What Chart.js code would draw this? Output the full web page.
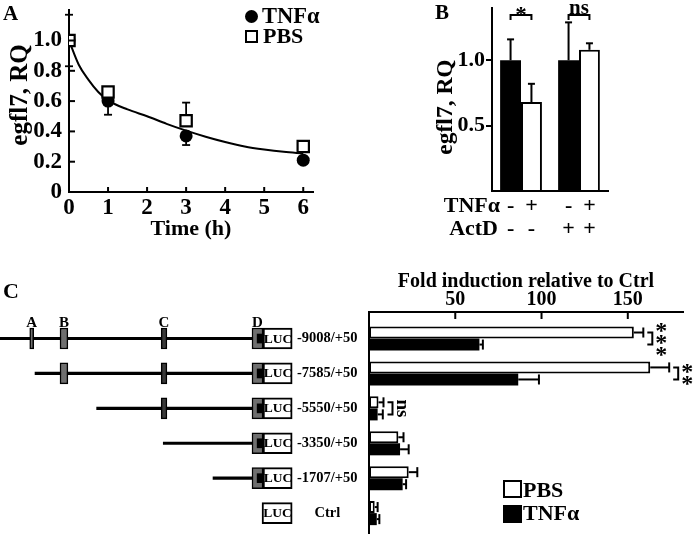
<!DOCTYPE html>
<html><head><meta charset="utf-8">
<script src="https://cdn.jsdelivr.net/npm/chart.js@4.4.0/dist/chart.umd.min.js"></script>
<style>
html,body{margin:0;padding:0;background:#fff;}
body{width:693px;height:536px;position:relative;overflow:hidden;font-family:"Liberation Serif","Times New Roman",serif;font-weight:bold;color:#000;}
canvas{position:absolute;}
.t{position:absolute;line-height:1;white-space:nowrap;z-index:5;}
.rot{position:absolute;line-height:1;white-space:nowrap;transform:translate(-50%,-50%) rotate(-90deg);z-index:5;}
.box{position:absolute;box-sizing:border-box;z-index:5;}
</style></head><body>
<canvas id="cA" width="335" height="250" style="left:0;top:0"></canvas>
<canvas id="cB" width="200" height="245" style="left:420px;top:0"></canvas>
<canvas id="cK" width="365" height="266" style="left:0;top:270px"></canvas>
<canvas id="cC" width="333" height="266" style="left:360px;top:270px"></canvas>

<div class="t" style="left:3px;top:3px;font-size:21px">A</div>
<div class="t" style="left:435px;top:2px;font-size:21px">B</div>
<div class="t" style="left:3px;top:280px;font-size:22px">C</div>

<div class="rot" style="left:18px;top:95px;font-size:25px">egfl7, RQ</div>
<div class="rot" style="left:445px;top:107px;font-size:23.5px">egfl7, RQ</div>

<div class="box" style="left:245px;top:10px;width:13px;height:13px;border-radius:50%;background:#000"></div>
<div class="t" style="left:262px;top:4.6px;font-size:22.5px">TNFα</div>
<div class="box" style="left:245px;top:30px;width:13px;height:13px;border:2.2px solid #000;background:#fff"></div>
<div class="t" style="left:263px;top:24.6px;font-size:22px">PBS</div>

<div class="t" style="right:193px;top:193.6px;font-size:22px">TNFα</div>
<div class="t" style="right:195px;top:216.6px;font-size:22px">ActD</div>

<div class="box" style="left:503px;top:480px;width:19px;height:18px;border:2.5px solid #000;background:#fff"></div>
<div class="t" style="left:523px;top:478.6px;font-size:22px">PBS</div>
<div class="box" style="left:503px;top:505px;width:19px;height:18px;background:#000"></div>
<div class="t" style="left:523px;top:501.6px;font-size:22px">TNFα</div>

<script>
// ---------- Panel A data ----------
const timeH = [0, 1, 3, 6];
const tnfA = [1.0, 0.60, 0.37, 0.21];
const tnfAErrLow = [null, 0.51, 0.31, null];
const pbsA = [1.0, 0.66, 0.47, 0.30];
const pbsAErrHigh = [1.17, null, 0.59, 0.33];
const pbsAErrLow = [0.83, null, null, null];
const fitT = [0, 0.25, 0.5, 0.75, 1, 1.5, 2, 2.5, 3, 3.5, 4, 4.5, 5, 5.5, 6];
const fitRQ = [1.0, 0.84, 0.74, 0.66, 0.605, 0.545, 0.50, 0.45, 0.405, 0.365, 0.33, 0.30, 0.28, 0.265, 0.255];
const yTicksA = [0, 0.2, 0.4, 0.6, 0.8, 1.0];
const xTicksA = [0, 1, 2, 3, 4, 5, 6];

// ---------- Panel B data ----------
const groupsB = ['ActD -', 'ActD +'];
const tnfSignB = ['-', '+', '-', '+'];
const actdSignB = ['-', '-', '+', '+'];
const ctrlB = [1.0, 1.0];
const tnfB = [0.68, 1.08];
const ctrlBErr = [1.16, 1.29];
const tnfBErr = [0.82, 1.13];
const sigB = ['*', 'ns'];
const yTicksB = [0.5, 1.0];

// ---------- Panel C data ----------
const constructs = ['-9008/+50', '-7585/+50', '-5550/+50', '-3350/+50', '-1707/+50', 'Ctrl'];
const constructStart = [-9008, -7585, -5550, -3350, -1707, null];
const elementNames = ['A', 'B', 'C', 'D'];
const elementSpan = [[-7760, -7630], [-6760, -6500], [-3420, -3230], [-420, -56]];
const dMark = [-250, -56];
const lucSpan = [[-56, 907], [-56, 907], [-56, 907], [-56, 907], [-56, 907], [-89, 907]];
const pbsC = [153.5, 163, 5.5, 17, 23, 3.3];
const pbsCErr = [159, 174, 8.4, 20, 28, 5];
const tnfC = [64, 86.5, 5, 18, 19.5, 4.5];
const tnfCErr = [66, 98.5, 8, 23, 21.5, 6];
const sigC = ['***', '**', 'ns', null, null, null];
const xTicksC = [50, 100, 150];

const SERIF = '"Liberation Serif", "Times New Roman", serif';
Chart.defaults.font.family = SERIF;
Chart.defaults.font.weight = 'bold';
Chart.defaults.color = '#000';
Chart.defaults.animation = false;
Chart.defaults.events = [];
Chart.defaults.plugins.legend.display = false;
Chart.defaults.plugins.tooltip.enabled = false;

function seg(ctx, x1, y1, x2, y2) { ctx.beginPath(); ctx.moveTo(x1, y1); ctx.lineTo(x2, y2); ctx.stroke(); }
const near = (arr, v) => arr.some(t => Math.abs(t - v) < 1e-6);
function fixSize(prop, val) {
  return s => { s[prop] = val; s.paddingTop = 0; s.paddingBottom = 0; s.paddingLeft = 0; s.paddingRight = 0; };
}

// ---------- Panel A ----------
new Chart(document.getElementById('cA'), {
  type: 'scatter',
  data: { datasets: [
    { label: 'PBS', data: timeH.map((t, i) => ({ x: t, y: pbsA[i] })), showLine: false,
      pointStyle: 'rect', pointRadius: 8, pointBackgroundColor: '#fff', pointBorderColor: '#000', pointBorderWidth: 2.2 },
    { label: 'TNFα', data: timeH.map((t, i) => ({ x: t, y: tnfA[i] })), showLine: false,
      pointStyle: 'circle', pointRadius: 6.5, pointBackgroundColor: '#000', pointBorderColor: '#000', pointBorderWidth: 0 },
    { label: 'fit', data: fitT.map((t, i) => ({ x: t, y: fitRQ[i] })), showLine: true, pointRadius: 0,
      borderColor: '#000', borderWidth: 2, cubicInterpolationMode: 'monotone', fill: false }
  ]},
  options: {
    responsive: false,
    layout: { padding: { top: 7, right: 22, left: 0, bottom: 0 } },
    scales: {
      x: { type: 'linear', min: 0, max: 6.25,
        afterFit: fixSize('height', 58),
        ticks: { stepSize: 1, includeBounds: false, autoSkip: false, maxRotation: 0, font: { size: 23 }, padding: 2,
          callback: v => near(xTicksA, v) ? String(Math.round(v)) : '' },
        grid: { display: false, drawTicks: false }, border: { display: true, color: '#000', width: 2 },
        title: { display: true, text: 'Time (h)', font: { size: 22 }, padding: { top: 0, bottom: 7 } } },
      y: { type: 'linear', min: 0, max: 1.2,
        afterFit: fixSize('width', 69),
        ticks: { stepSize: 0.2, includeBounds: false, autoSkip: false, font: { size: 23 }, padding: 7,
          callback: v => near(yTicksA, v) ? (Math.abs(v) < 1e-6 ? '0' : v.toFixed(1)) : '' },
        grid: { display: false, drawTicks: false }, border: { display: true, color: '#000', width: 2 } }
    }
  },
  plugins: [{
    id: 'aExtras',
    beforeDatasetsDraw(chart) {
      const { ctx, scales: { x, y } } = chart;
      ctx.save(); ctx.strokeStyle = '#000'; ctx.lineWidth = 1.8;
      const bar = (t, v, e) => {
        const px = x.getPixelForValue(t), p0 = y.getPixelForValue(v), p1 = y.getPixelForValue(e);
        seg(ctx, px, p0, px, p1); seg(ctx, px - 4, p1, px + 4, p1);
      };
      timeH.forEach((t, i) => {
        if (pbsAErrHigh[i] != null) bar(t, pbsA[i], pbsAErrHigh[i]);
        if (pbsAErrLow[i] != null) bar(t, pbsA[i], pbsAErrLow[i]);
        if (tnfAErrLow[i] != null) bar(t, tnfA[i], tnfAErrLow[i]);
      });
      ctx.restore();
    },
    afterDatasetsDraw(chart) {
      const { ctx, scales: { x, y }, chartArea: ca } = chart;
      ctx.save(); ctx.strokeStyle = '#000'; ctx.lineWidth = 2;
      yTicksA.forEach(v => { if (v === 0) return; const py = y.getPixelForValue(v); seg(ctx, ca.left, py, ca.left + 6, py); });
      xTicksA.forEach(v => { if (v === 0) return; const px = x.getPixelForValue(v); seg(ctx, px, ca.bottom, px, ca.bottom - 5); });
      ctx.restore();
    }
  }]
});

// ---------- Panel B ----------
new Chart(document.getElementById('cB'), {
  type: 'bar',
  data: { labels: groupsB, datasets: [
    { label: 'TNFα -', data: ctrlB, backgroundColor: '#000', borderColor: '#000', borderWidth: 0 },
    { label: 'TNFα +', data: tnfB, backgroundColor: '#fff', borderColor: '#000', borderWidth: 2, borderSkipped: 'bottom' }
  ]},
  options: {
    responsive: false,
    layout: { padding: { top: 8, right: 12, left: 0, bottom: 0 } },
    datasets: { bar: { categoryPercentage: 0.72, barPercentage: 1 } },
    scales: {
      x: { afterFit: fixSize('height', 54), ticks: { display: false },
        grid: { display: false, drawTicks: false }, border: { display: true, color: '#000', width: 2 } },
      y: { min: 0, max: 1.4, afterFit: fixSize('width', 72),
        ticks: { stepSize: 0.5, includeBounds: false, autoSkip: false, font: { size: 22 }, padding: 1,
          callback: v => near(yTicksB, v) ? v.toFixed(1) : '' },
        grid: { display: true, drawOnChartArea: false, drawTicks: true, tickLength: 6, lineWidth: 2,
          color: c => (c.tick && near(yTicksB, c.tick.value)) ? '#000' : 'rgba(0,0,0,0)' },
        border: { display: true, color: '#000', width: 2 } }
    }
  },
  plugins: [{
    id: 'bExtras',
    afterDatasetsDraw(chart) {
      const { ctx, scales: { y }, chartArea: ca } = chart;
      const metas = [chart.getDatasetMeta(0), chart.getDatasetMeta(1)];
      const errs = [ctrlBErr, tnfBErr];
      ctx.save(); ctx.strokeStyle = '#000'; ctx.fillStyle = '#000'; ctx.lineWidth = 2;
      metas.forEach((m, d) => m.data.forEach((el, i) => {
        const ey = y.getPixelForValue(errs[d][i]);
        seg(ctx, el.x, el.y, el.x, ey); seg(ctx, el.x - 3.5, ey, el.x + 3.5, ey);
      }));
      ctx.font = 'bold 22px ' + SERIF; ctx.textAlign = 'center'; ctx.textBaseline = 'alphabetic';
      groupsB.forEach((g, i) => {
        [0, 1].forEach(d => {
          const el = metas[d].data[i], k = i * 2 + d;
          ctx.fillText(tnfSignB[k], el.x, 212);
          ctx.fillText(actdSignB[k], el.x, 235);
        });
        const x0 = metas[0].data[i].x, x1 = metas[1].data[i].x, by = ca.top + 7;
        ctx.beginPath(); ctx.moveTo(x0, by + 5); ctx.lineTo(x0, by); ctx.lineTo(x1, by); ctx.lineTo(x1, by + 5); ctx.stroke();
        ctx.font = (sigB[i] === '*' ? 'bold 23px ' : 'bold 21px ') + SERIF;
        ctx.fillText(sigB[i], (x0 + x1) / 2, sigB[i] === '*' ? by + 7 : by - 1);
        ctx.font = 'bold 22px ' + SERIF;
      });
      ctx.restore();
    }
  }]
});

// ---------- Panel C: fold induction ----------
const foldChart = new Chart(document.getElementById('cC'), {
  type: 'bar',
  data: { datasets: [
    { label: 'PBS', data: pbsC.map((v, i) => ({ x: v, y: i })), backgroundColor: '#fff', borderColor: '#000', borderWidth: 2, borderSkipped: false },
    { label: 'TNFα', data: tnfC.map((v, i) => ({ x: v, y: i })), backgroundColor: '#000', borderColor: '#000', borderWidth: 0 }
  ]},
  options: {
    indexAxis: 'y', responsive: false,
    layout: { padding: { top: 0, right: 10, left: 0, bottom: 3 } },
    datasets: { bar: { categoryPercentage: 0.69, barPercentage: 1 } },
    scales: {
      x: { type: 'linear', position: 'top', min: 0, max: 182,
        afterFit: fixSize('height', 42),
        ticks: { stepSize: 50, includeBounds: false, autoSkip: false, maxRotation: 0, font: { size: 20 }, padding: 0,
          callback: v => near(xTicksC, v) ? String(v) : '' },
        grid: { display: false, drawTicks: false }, border: { display: true, color: '#000', width: 2 },
        title: { display: true, text: 'Fold induction relative to Ctrl', font: { size: 20 }, padding: { top: 0, bottom: 0 } } },
      y: { type: 'linear', reverse: true, min: -0.76, max: 5.57, offset: false,
        afterFit: fixSize('width', 9),
        ticks: { display: false, stepSize: 1, includeBounds: false },
        grid: { display: false, drawTicks: false, offset: false }, border: { display: true, color: '#000', width: 2 } }
    }
  },
  plugins: [{
    id: 'cExtras',
    afterDatasetsDraw(chart) {
      const { ctx, scales: { x }, chartArea: ca } = chart;
      const mP = chart.getDatasetMeta(0), mT = chart.getDatasetMeta(1);
      ctx.save(); ctx.strokeStyle = '#000'; ctx.fillStyle = '#000'; ctx.lineWidth = 2;
      [[mP, pbsCErr], [mT, tnfCErr]].forEach(([m, errs]) => m.data.forEach((el, i) => {
        const ex = x.getPixelForValue(errs[i]);
        seg(ctx, el.x, el.y, ex, el.y);
        seg(ctx, ex, el.y - el.height / 2 + 1, ex, el.y + el.height / 2 - 1);
      }));
      xTicksC.forEach(v => { const px = x.getPixelForValue(v); seg(ctx, px, ca.top, px, ca.top + 7); });
      sigC.forEach((s, i) => {
        if (!s) return;
        const p = mP.data[i], t = mT.data[i];
        const bx = Math.max(x.getPixelForValue(pbsCErr[i]), x.getPixelForValue(tnfCErr[i])) + 9;
        ctx.beginPath(); ctx.moveTo(bx - 5, p.y); ctx.lineTo(bx, p.y); ctx.lineTo(bx, t.y); ctx.lineTo(bx - 5, t.y); ctx.stroke();
        const mid = (p.y + t.y) / 2;
        if (s === 'ns') {
          ctx.save(); ctx.translate(bx + 9, mid); ctx.rotate(Math.PI / 2);
          ctx.font = 'bold 19px ' + SERIF; ctx.textAlign = 'center'; ctx.textBaseline = 'middle';
          ctx.fillText('ns', 0, 0); ctx.restore();
        } else {
          ctx.font = 'bold 24px ' + SERIF; ctx.textAlign = 'center'; ctx.textBaseline = 'alphabetic';
          const n = s.length;
          for (let k = 0; k < n; k++) {
            const cy = mid + (k - (n - 1) / 2) * 12;
            ctx.fillText('*', bx + 9, cy + 11.4);
          }
        }
      });
      ctx.restore();
    }
  }]
});

// ---------- Panel C: constructs ----------
const ca = foldChart.chartArea;
const rowsWith = (span) => constructStart.map((s, i) => (s != null && s <= span[0]) ? i : null).filter(i => i != null);
const elementDatasets = elementNames.map((name, k) => ({
  label: name,
  data: rowsWith(elementSpan[k]).map(i => ({ x: elementSpan[k], y: i })),
  backgroundColor: name === 'C' ? '#3a3a3a' : '#6f6f6f', borderColor: '#000', borderWidth: 1.5, borderSkipped: false,
  barThickness: 21, grouped: false
}));
new Chart(document.getElementById('cK'), {
  type: 'bar',
  data: { datasets: [
    { label: 'LUC', data: lucSpan.map((s, i) => ({ x: s, y: i })), backgroundColor: '#fff', borderColor: '#000', borderWidth: 2,
      borderSkipped: false, barThickness: 21, grouped: false },
    { label: 'Dmark', data: rowsWith(elementSpan[3]).map(i => ({ x: dMark, y: i })), backgroundColor: '#000', borderWidth: 0,
      barThickness: 9, grouped: false },
    ...elementDatasets.slice().reverse(),
    { label: 'promoter', data: constructStart.map((s, i) => s == null ? null : ({ x: [s, elementSpan[3][0] + 50], y: i })).filter(d => d),
      backgroundColor: '#000', borderWidth: 0, barThickness: 2.5, grouped: false }
  ]},
  options: {
    indexAxis: 'y', responsive: false,
    layout: { padding: { top: ca.top, bottom: 266 - ca.bottom, left: 0, right: 0 } },
    scales: {
      x: { type: 'linear', min: -8742, max: 1000, display: false },
      y: { type: 'linear', reverse: true, min: -0.76, max: 5.57, position: 'right', offset: false,
        afterFit: fixSize('width', 70),
        ticks: { stepSize: 1, includeBounds: false, autoSkip: false, font: { size: 14.5 }, padding: 2, crossAlign: 'center',
          callback: v => constructs[Math.round(v)] ?? '' },
        grid: { display: false, drawTicks: false, offset: false }, border: { display: false } }
    }
  },
  plugins: [{
    id: 'kExtras',
    afterDatasetsDraw(chart) {
      const { ctx } = chart;
      ctx.save(); ctx.fillStyle = '#000'; ctx.textAlign = 'center'; ctx.textBaseline = 'middle';
      ctx.font = 'bold 13.5px ' + SERIF;
      chart.getDatasetMeta(0).data.forEach(el => { ctx.fillText('LUC', (el.x + el.base) / 2 + 0.5, el.y + 0.5); });
      ctx.textBaseline = 'alphabetic'; ctx.font = 'bold 15px ' + SERIF;
      chart.data.datasets.forEach((ds, di) => {
        const k = elementNames.indexOf(ds.label);
        if (k < 0) return;
        const el = chart.getDatasetMeta(di).data[0];
        ctx.fillText(ds.label, (el.x + el.base) / 2, el.y - 12);
      });
      ctx.restore();
    }
  }]
});
</script>
</body></html>
